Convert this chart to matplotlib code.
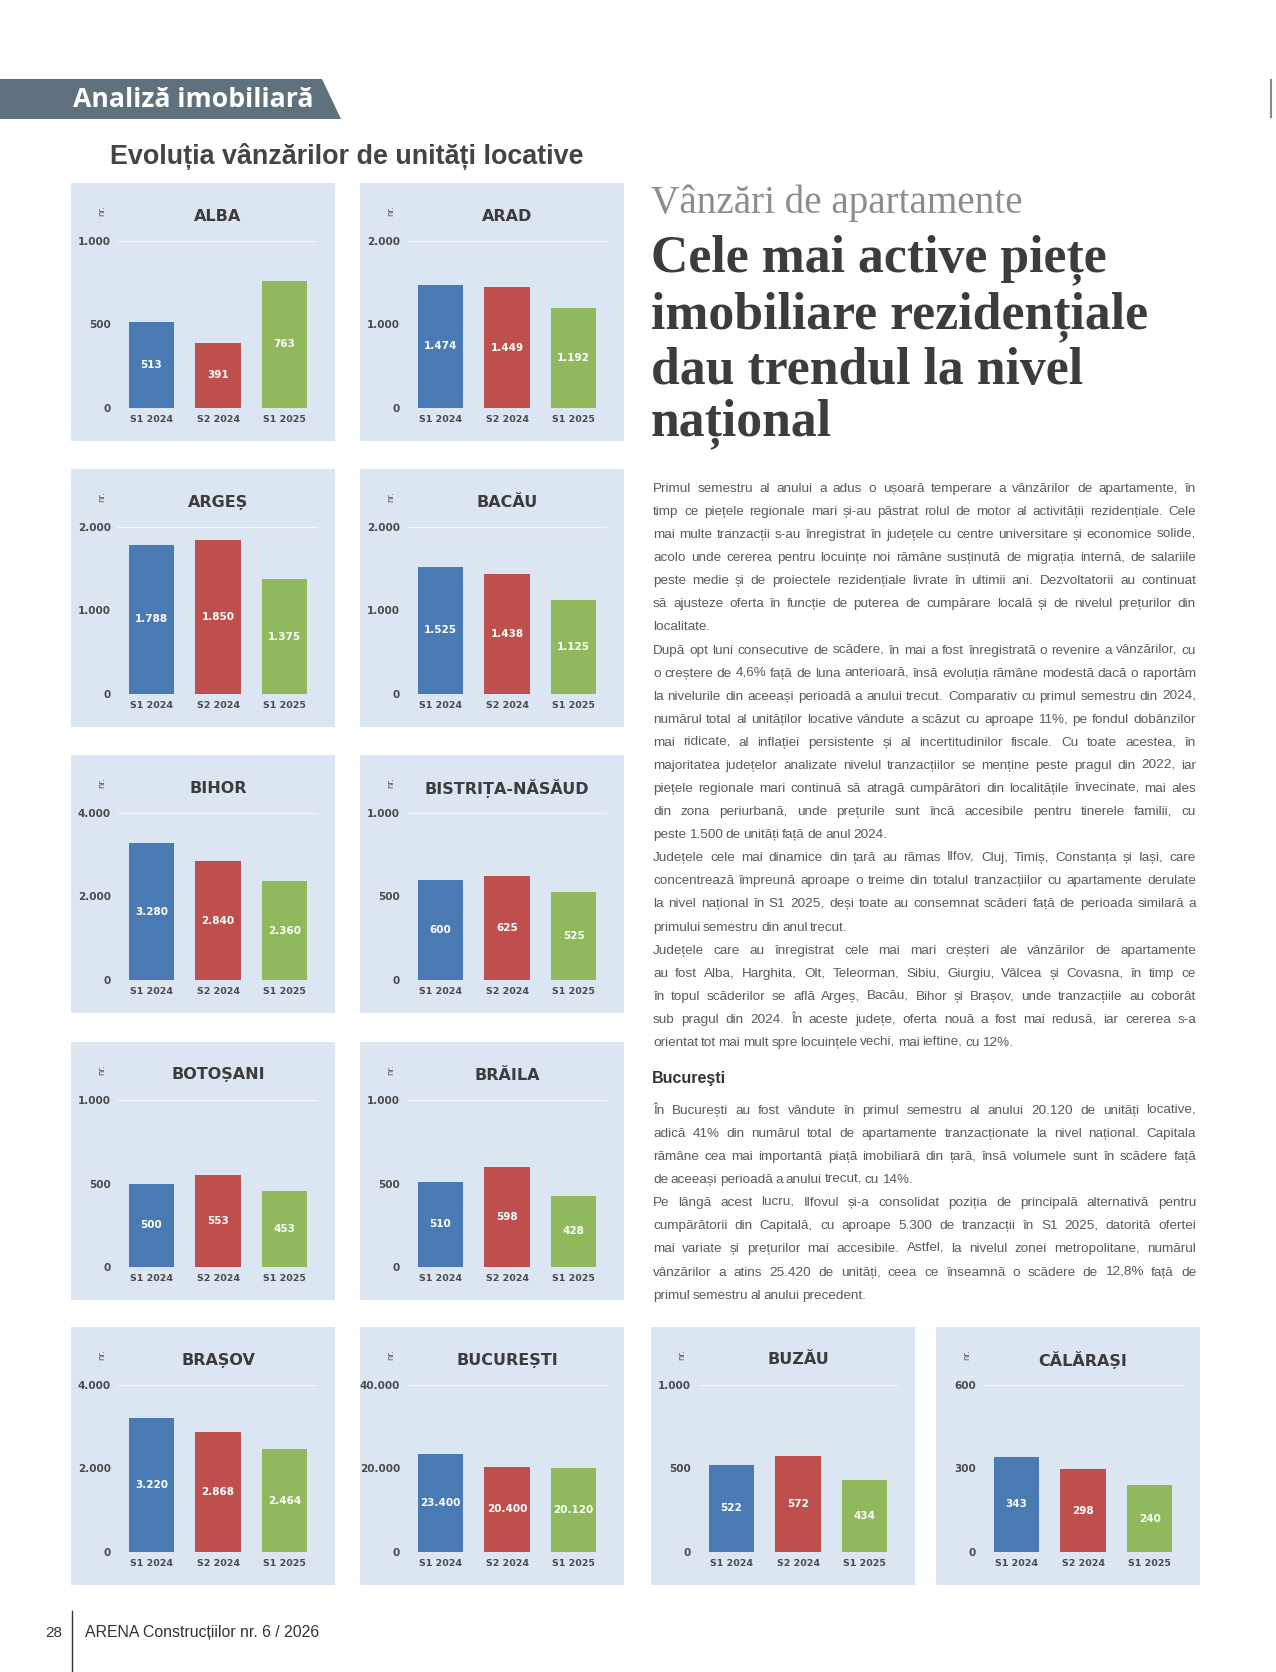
import math
import matplotlib
matplotlib.use('Agg')
import matplotlib.pyplot as plt
from matplotlib.patches import Rectangle, Polygon
from matplotlib.backends.backend_agg import get_hinting_flag

W, H = 1276, 1672

# county data: sales of housing units (S1 2024, S2 2024, S1 2025)
judete = ['ALBA', 'ARAD', 'ARGEȘ', 'BACĂU', 'BIHOR', 'BISTRIȚA-NĂSĂUD',
          'BOTOȘANI', 'BRĂILA', 'BRAȘOV', 'BUCUREȘTI', 'BUZĂU', 'CĂLĂRAȘI']
s1_2024 = [513, 1474, 1788, 1525, 3280, 600, 500, 510, 3220, 23400, 522, 343]
s2_2024 = [391, 1449, 1850, 1438, 2840, 625, 553, 598, 2868, 20400, 572, 298]
s1_2025 = [763, 1192, 1375, 1125, 2360, 525, 453, 428, 2464, 20120, 434, 240]
y_max = [1000, 2000, 2000, 2000, 4000, 1000, 1000, 1000, 4000, 40000, 1000, 600]
perioade = ['S1 2024', 'S2 2024', 'S1 2025']
culori = ['#4a7ab4', '#be4f4c', '#8fb95c']

# top-left corner of every panel (pixels)
panel_x = [71, 360, 71, 360, 71, 360, 71, 360, 71, 360, 651, 936]
panel_y = [183, 183, 469, 469, 755, 755, 1042, 1042, 1327, 1327, 1327, 1327]
PW, PH = 264, 258

paragrafe = [
    ["Primul semestru al anului a adus o ușoară temperare a vânzărilor de apartamente, în",
     "timp ce piețele regionale mari și-au păstrat rolul de motor al activității rezidențiale. Cele",
     "mai multe tranzacții s-au înregistrat în județele cu centre universitare și economice solide,",
     "acolo unde cererea pentru locuințe noi rămâne susținută de migrația internă, de salariile",
     "peste medie și de proiectele rezidențiale livrate în ultimii ani. Dezvoltatorii au continuat",
     "să ajusteze oferta în funcție de puterea de cumpărare locală și de nivelul prețurilor din",
     "localitate."],
    ["După opt luni consecutive de scădere, în mai a fost înregistrată o revenire a vânzărilor, cu",
     "o creștere de 4,6% față de luna anterioară, însă evoluția rămâne modestă dacă o raportăm",
     "la nivelurile din aceeași perioadă a anului trecut. Comparativ cu primul semestru din 2024,",
     "numărul total al unităților locative vândute a scăzut cu aproape 11%, pe fondul dobânzilor",
     "mai ridicate, al inflației persistente și al incertitudinilor fiscale. Cu toate acestea, în",
     "majoritatea județelor analizate nivelul tranzacțiilor se menține peste pragul din 2022, iar",
     "piețele regionale mari continuă să atragă cumpărători din localitățile învecinate, mai ales",
     "din zona periurbană, unde prețurile sunt încă accesibile pentru tinerele familii, cu",
     "peste 1.500 de unități față de anul 2024."],
    ["Județele cele mai dinamice din țară au rămas Ilfov, Cluj, Timiș, Constanța și Iași, care",
     "concentrează împreună aproape o treime din totalul tranzacțiilor cu apartamente derulate",
     "la nivel național în S1 2025, deși toate au consemnat scăderi față de perioada similară a",
     "primului semestru din anul trecut."],
    ["Județele care au înregistrat cele mai mari creșteri ale vânzărilor de apartamente",
     "au fost Alba, Harghita, Olt, Teleorman, Sibiu, Giurgiu, Vâlcea și Covasna, în timp ce",
     "în topul scăderilor se află Argeș, Bacău, Bihor și Brașov, unde tranzacțiile au coborât",
     "sub pragul din 2024. În aceste județe, oferta nouă a fost mai redusă, iar cererea s-a",
     "orientat tot mai mult spre locuințele vechi, mai ieftine, cu 12%."],
]
paragrafe_buc = [
    ["În București au fost vândute în primul semestru al anului 20.120 de unități locative,",
     "adică 41% din numărul total de apartamente tranzacționate la nivel național. Capitala",
     "rămâne cea mai importantă piață imobiliară din țară, însă volumele sunt în scădere față",
     "de aceeași perioadă a anului trecut, cu 14%."],
    ["Pe lângă acest lucru, Ilfovul și-a consolidat poziția de principală alternativă pentru",
     "cumpărătorii din Capitală, cu aproape 5.300 de tranzacții în S1 2025, datorită ofertei",
     "mai variate și prețurilor mai accesibile. Astfel, la nivelul zonei metropolitane, numărul",
     "vânzărilor a atins 25.420 de unități, ceea ce înseamnă o scădere de 12,8% față de",
     "primul semestru al anului precedent."],
]


def fx(x):
    return x / W


def fy(y):
    return 1 - y / H


def fit_text(fig, x, y, s, width, **kw):
    # scale font size so the text spans the given width in pixels
    t = fig.text(fx(x), fy(y), s, fontsize=10, va='center', **kw)
    w = t.get_window_extent(renderer).width
    t.set_fontsize(10 * width / w)
    return t


def baseline_shift(t):
    # pixel row where Agg puts the baseline of this word, relative to the anchor
    # (bitmap is placed by round(y + descent) and cut at whole pixels)
    try:
        font = renderer._prepare_font(t.get_fontproperties())
        font.set_text(t.get_text(), 0, flags=get_hinting_flag())
        d = font.get_descent() / 64.0
        top = font.get_width_height()[1] / 64.0 - d
        return round(d) - math.floor(top + d) + math.floor(top)
    except Exception:
        return 0


def justified(fig, lines, y0, step, x0=653, width=543, fs=9.7, color='#5a5a5a'):
    y = y0
    for i, line in enumerate(lines):
        words = line.split()
        yb = round(y) + 4
        texts = [fig.text(0, fy(yb), wd, fontsize=fs, color=color,
                          family='Liberation Sans', va='baseline') for wd in words]
        widths = [t.get_window_extent(renderer).width for t in texts]
        last = i == len(lines) - 1
        gap = 2.7 if last else (width - sum(widths)) / (len(words) - 1)
        xx = x0
        for t, wdt in zip(texts, widths):
            t.set_position((fx(xx), fy(yb - baseline_shift(t))))
            xx += wdt + gap
        y += step
    return y


fig = plt.figure(figsize=(W / 100, H / 100), dpi=100)
fig.patch.set_facecolor('white')
renderer = fig.canvas.get_renderer()

# banner
fig.patches.append(Polygon([(0, fy(79)), (fx(322), fy(79)), (fx(341), fy(119)), (0, fy(119))],
                           closed=True, facecolor='#5e717d', edgecolor='none',
                           transform=fig.transFigure, figure=fig))
fit_text(fig, 73, 100, 'Analiză imobiliară', 241, color='white', family='Open Sans', weight='bold')
fig.add_artist(plt.Line2D([fx(1271), fx(1271)], [fy(80), fy(117)], color='#888888', lw=1.5))

fit_text(fig, 110, 157, 'Evoluția vânzărilor de unități locative', 474,
         color='#444444', family='Liberation Sans', weight='bold')

# panels
for i, nume in enumerate(judete):
    x0, y0 = panel_x[i], panel_y[i]
    fig.patches.append(Rectangle((fx(x0), fy(y0 + PH)), PW / W, PH / H, facecolor='#dce6f2',
                                 edgecolor='none', transform=fig.transFigure, figure=fig,
                                 zorder=-5))
    ax = fig.add_axes([fx(x0 + 47), fy(y0 + 225), 200 / W, 167 / H])
    ax.set_facecolor('none')
    vals = [s1_2024[i], s2_2024[i], s1_2025[i]]
    ax.bar(range(3), vals, width=0.68, color=culori, zorder=3)
    for k, v in enumerate(vals):
        ax.text(k, v / 2, f'{v:,}'.replace(',', '.'), ha='center', va='center',
                color='white', fontsize=7.5, weight='bold', zorder=4)
    ax.set_xlim(-0.5, 2.5)
    ax.set_ylim(0, y_max[i])
    ax.axhline(y_max[i], color='white', lw=0.8, alpha=0.7)
    ticks = [0, y_max[i] // 2, y_max[i]]
    ax.set_yticks(ticks, [f'{t:,}'.replace(',', '.') for t in ticks])
    ax.set_xticks(range(3), perioade)
    ax.tick_params(axis='y', length=0, labelsize=7.5, colors='#4a4a4a', pad=5)
    ax.tick_params(axis='x', length=0, labelsize=6.8, colors='#4a4a4a', pad=5)
    for lab in ax.get_yticklabels() + ax.get_xticklabels():
        lab.set_fontweight('bold')
    for sp in ax.spines.values():
        sp.set_visible(False)
    ax.text(0.5, 1 + 25 / 167, nume, transform=ax.transAxes, ha='center', va='center',
            fontsize=11.5, weight='bold', color='#3c3c3c')
    fig.text(fx(x0 + 31), fy(y0 + 28), 'nr.', rotation=90, fontsize=6,
             color='#555555', ha='center', va='center')

# article header
fit_text(fig, 651, 203, 'Vânzări de apartamente', 373, color='#8c8c8c', family='Liberation Serif')
t = fit_text(fig, 651, 317, 'imobiliare rezidențiale', 500, color='#3c3c3c',
             family='Liberation Serif', weight='bold')
hs = t.get_fontsize()
for txt, yy in [('Cele mai active piețe', 260), ('dau trendul la nivel', 371), ('național', 424)]:
    fig.text(fx(651), fy(yy), txt, fontsize=hs, color='#3c3c3c', family='Liberation Serif',
             weight='bold', va='center')

# article body
y = 488
for p in paragrafe:
    y = justified(fig, p, y, 23.08)
fig.text(fx(652), fy(1078), 'Bucureşti', fontsize=11.5, weight='bold', color='#333333',
         family='Liberation Sans', va='center')
y = 1110
for p in paragrafe_buc:
    y = justified(fig, p, y, 23.08)

# footer
fig.text(fx(45), fy(1633), '28', fontsize=11, color='#333333',
         family=['Liberation Sans Narrow', 'Liberation Sans'], va='center')
fig.add_artist(plt.Line2D([fx(72), fx(72)], [fy(1611), fy(1672)], color='#333333', lw=1))
fit_text(fig, 85, 1633, 'ARENA Construcțiilor nr. 6 / 2026', 235, color='#333333',
         family=['Liberation Sans Narrow', 'Liberation Sans'])

fig.savefig('out.png', dpi=100)
